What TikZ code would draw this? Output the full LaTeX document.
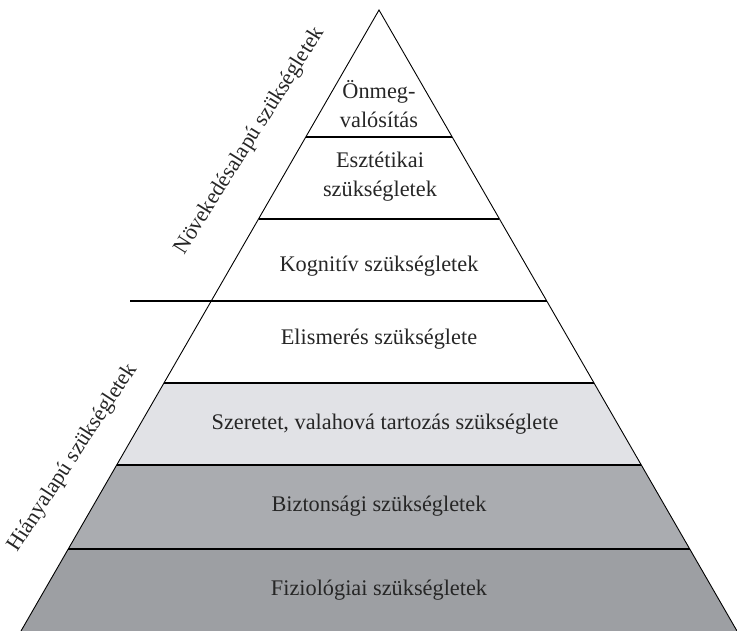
\documentclass[tikz,border=0pt]{standalone}
\usepackage{fontspec}
\setmainfont{Liberation Serif}
\usetikzlibrary{calc}
\definecolor{bandlight}{HTML}{E1E2E6}
\definecolor{bandmid}{HTML}{AAACB0}
\definecolor{banddark}{HTML}{9D9FA3}
\tikzset{
  lbl/.style={font=\fontsize{22.3}{29}\selectfont, align=center, text=black!85, inner sep=0pt},
  sidelbl/.style={font=\fontsize{22}{27}\selectfont, text=black!85, inner sep=0pt},
  edge/.style={line width=0.9pt},
  tier/.style={line width=1.6pt}
}
\begin{document}
\begin{tikzpicture}[x=1pt,y=-1pt]
\useasboundingbox (0,0) rectangle (737,631);
\coordinate (A) at (379,10);
\coordinate (L) at (21,631);
\coordinate (R) at (737,631);
% tier boundary points
\foreach \n/\yy in {a/137,b/219,c/301,d/383,e/465,f/549}{
  \coordinate (L\n) at ($(A)!{(\yy-10)/621}!(L)$);
  \coordinate (R\n) at ($(A)!{(\yy-10)/621}!(R)$);
}
% fills
\fill[bandlight] (Ld) -- (Rd) -- (Re) -- (Le) -- cycle;
\fill[bandmid] (Le) -- (Re) -- (Rf) -- (Lf) -- cycle;
\fill[banddark] (Lf) -- (Rf) -- (R) -- (L) -- cycle;
% outline
\draw[edge] (L) -- (A) -- (R);
% tier lines
\draw[tier] (La) -- (Ra);
\draw[tier] (Lb) -- (Rb);
\coordinate (S) at (130,301);
\draw[tier] (S) -- (Rc);
\draw[tier] (Ld) -- (Rd);
\draw[tier] (Le) -- (Re);
\draw[tier] (Lf) -- (Rf);
% labels
\node[lbl] (t1) at (379,104) {Önmeg-\\valósítás};
\node[lbl] (t2) at (380,177) {Esztétikai\\szükségletek};
\node[lbl] (t3) at (379,266) {Kognitív szükségletek};
\node[lbl] (t4) at (379,339) {Elismerés szükséglete};
\node[lbl] (t5) at (385,424) {Szeretet, valahová tartozás szükséglete};
\node[lbl] (t6) at (379,506) {Biztonsági szükségletek};
\node[lbl] (t7) at (379,590) {Fiziológiai szükségletek};
\node[sidelbl, rotate=58] (g) at (250,141) {Növekedésalapú szükségletek};
\node[sidelbl, rotate=57] (h) at (73,458) {Hiányalapú szükségletek};
\end{tikzpicture}
\end{document}
